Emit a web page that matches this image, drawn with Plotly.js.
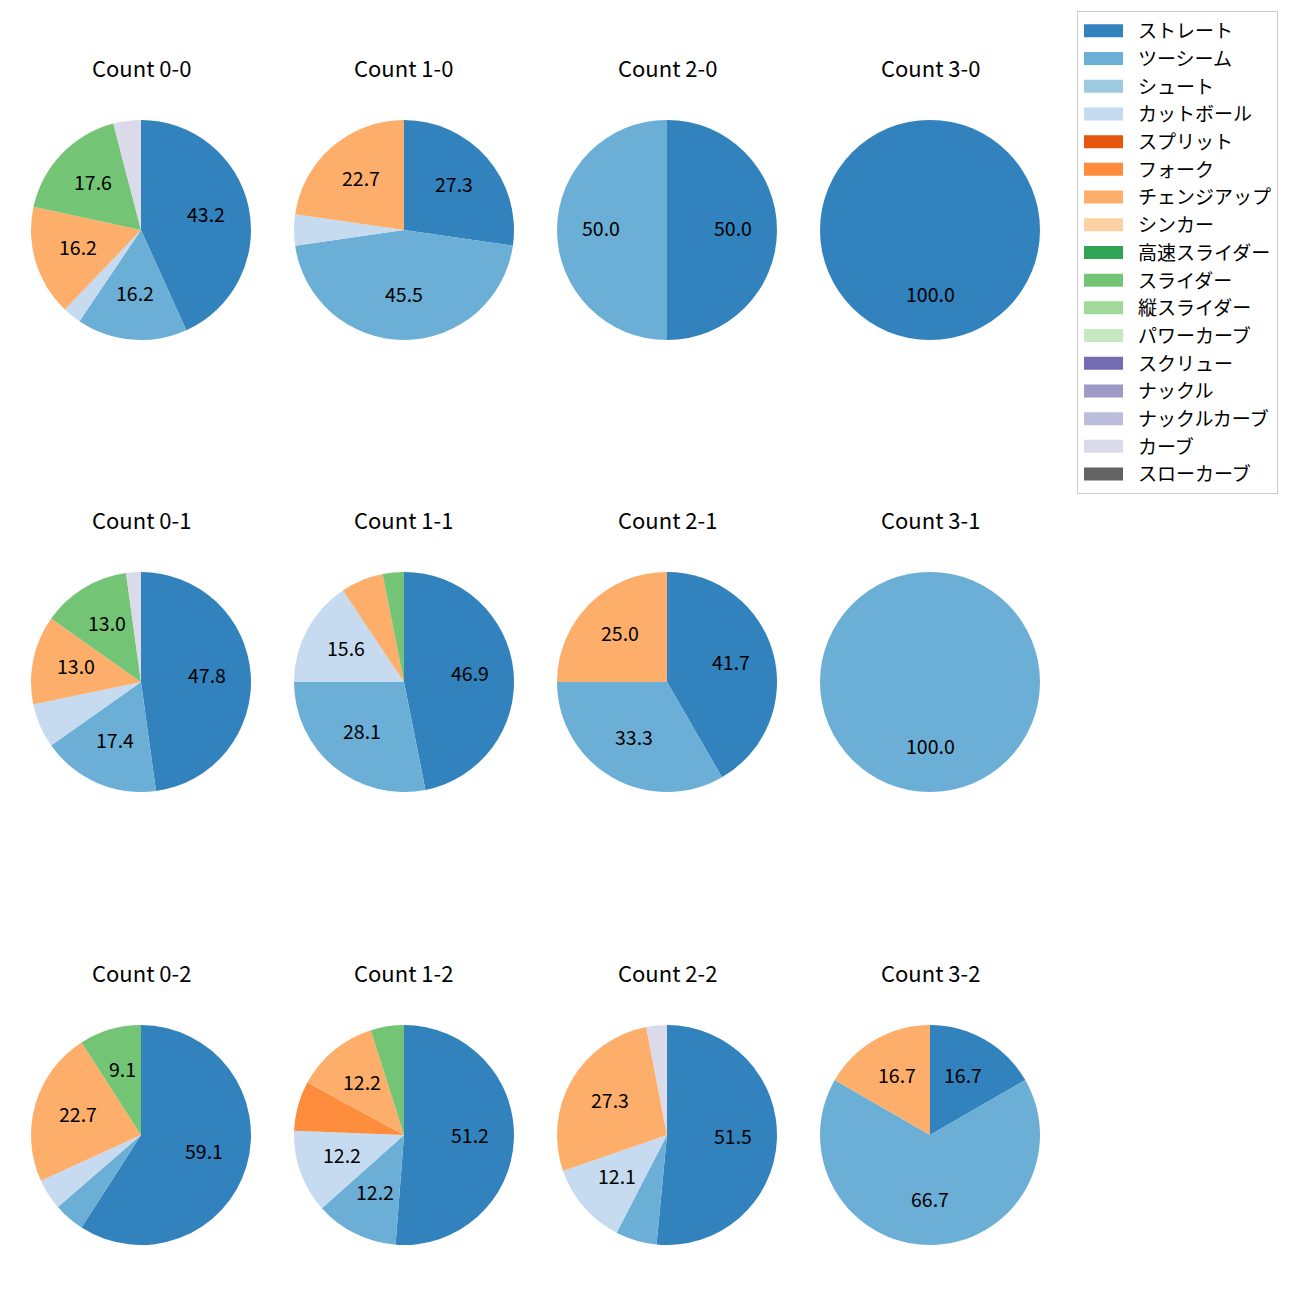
<!DOCTYPE html>
<html>
<head>
<meta charset="utf-8">
<script src="https://cdn.plot.ly/plotly-3.0.1.min.js"></script>
<style>html,body{margin:0;padding:0;background:#fff;}</style>
</head>
<body>
<div id="chart" style="width:1300px;height:1300px;"></div>
<script>
// Pitch types (legend order)
const pitchTypes = ["ストレート","ツーシーム","シュート","カットボール","スプリット","フォーク","チェンジアップ","シンカー","高速スライダー","スライダー","縦スライダー","パワーカーブ","スクリュー","ナックル","ナックルカーブ","カーブ","スローカーブ"];
// Pitch counts per ball-strike count, aligned with pitchTypes (read from the shown percentages)
const count00 = [32,12,0,2,0,0,12,0,0,13,0,0,0,0,0,3,0];
const count10 = [6,10,0,1,0,0,5,0,0,0,0,0,0,0,0,0,0];
const count20 = [1,1,0,0,0,0,0,0,0,0,0,0,0,0,0,0,0];
const count30 = [1,0,0,0,0,0,0,0,0,0,0,0,0,0,0,0,0];
const count01 = [22,8,0,3,0,0,6,0,0,6,0,0,0,0,0,1,0];
const count11 = [15,9,0,5,0,0,2,0,0,1,0,0,0,0,0,0,0];
const count21 = [5,4,0,0,0,0,3,0,0,0,0,0,0,0,0,0,0];
const count31 = [0,1,0,0,0,0,0,0,0,0,0,0,0,0,0,0,0];
const count02 = [13,1,0,1,0,0,5,0,0,2,0,0,0,0,0,0,0];
const count12 = [21,5,0,5,0,3,5,0,0,2,0,0,0,0,0,0,0];
const count22 = [17,2,0,4,0,0,9,0,0,0,0,0,0,0,0,1,0];
const count32 = [1,4,0,0,0,0,1,0,0,0,0,0,0,0,0,0,0];
const countTitles = ["Count 0-0","Count 1-0","Count 2-0","Count 3-0","Count 0-1","Count 1-1","Count 2-1","Count 3-1","Count 0-2","Count 1-2","Count 2-2","Count 3-2"];
const countValues = [count00,count10,count20,count30,count01,count11,count21,count31,count02,count12,count22,count32];

// Style
const colors = ["#3182bd","#6baed6","#9ecae1","#c6dbef","#e6550d","#fd8d3c","#fdae6b","#fdd0a2","#31a354","#74c476","#a1d99b","#c7e9c0","#756bb1","#9e9ac8","#bcbddc","#dadaeb","#636363"];
const FONT = "Noto Sans CJK JP, Noto Sans, sans-serif";
const W = 1300, H = 1300;
const colCenters = [141, 404, 667, 930];
const rowCenters = [230, 682, 1135];
const R = 110;
const titleOffset = 163;
const labelDist = 0.6;   // label distance from centre, fraction of radius
const labelLift = 3;     // small vertical text-centring correction (px)
const minPct = 8;        // smaller shares are not labelled

const traces = [];
const annotations = [];
countValues.forEach((vals, i) => {
  const col = i % 4, row = Math.floor(i / 4);
  const cx = colCenters[col], cy = rowCenters[row];
  const total = vals.reduce((a, b) => a + b, 0);
  traces.push({
    type: "pie",
    labels: pitchTypes,
    values: vals,
    textinfo: "none",
    sort: false,
    direction: "clockwise",
    rotation: 0,
    marker: {colors: colors, line: {width: 0}},
    showlegend: i === 0,
    hoverinfo: "label+percent",
    domain: {x: [(cx - R) / W, (cx + R) / W], y: [1 - (cy + R) / H, 1 - (cy - R) / H]}
  });
  annotations.push({
    text: countTitles[i], showarrow: false, xref: "paper", yref: "paper",
    x: cx / W, y: 1 - (cy - titleOffset) / H, xanchor: "center", yanchor: "middle",
    font: {size: 22, color: "#000", family: FONT}
  });
  // percentage labels placed along each slice's bisector
  let cum = 0;
  vals.forEach(v => {
    const pct = v / total * 100;
    if (v > 0 && pct >= minPct) {
      const ang = (cum + v / 2) / total * 2 * Math.PI;
      const px = cx + labelDist * R * Math.sin(ang);
      const py = cy - labelDist * R * Math.cos(ang) - labelLift;
      annotations.push({
        text: pct.toFixed(1), showarrow: false, xref: "paper", yref: "paper",
        x: px / W, y: 1 - py / H, xanchor: "center", yanchor: "middle",
        font: {size: 19.5, color: "#000", family: FONT}
      });
    }
    cum += v;
  });
});

const layout = {
  width: W, height: H,
  margin: {l: 0, r: 0, t: 0, b: 0},
  paper_bgcolor: "#fff",
  font: {family: FONT},
  annotations: annotations,
  legend: {
    x: 1077 / W, y: 1 - 11 / H, xanchor: "left", yanchor: "top",
    bgcolor: "rgba(255,255,255,0.8)", bordercolor: "#cccccc", borderwidth: 1,
    font: {size: 19, color: "#000", family: FONT},
    itemwidth: 50, traceorder: "normal"
  }
};

Plotly.newPlot("chart", traces, layout, {displayModeBar: false, staticPlot: true}).then(gd => {
  // widen legend swatches into rectangles, like the reference legend handles
  gd.querySelectorAll(".legend .legendpie").forEach(p => {
    p.setAttribute("d", "M-24,6.5H15V-6.5H-24Z");
  });
});
</script>
</body>
</html>
